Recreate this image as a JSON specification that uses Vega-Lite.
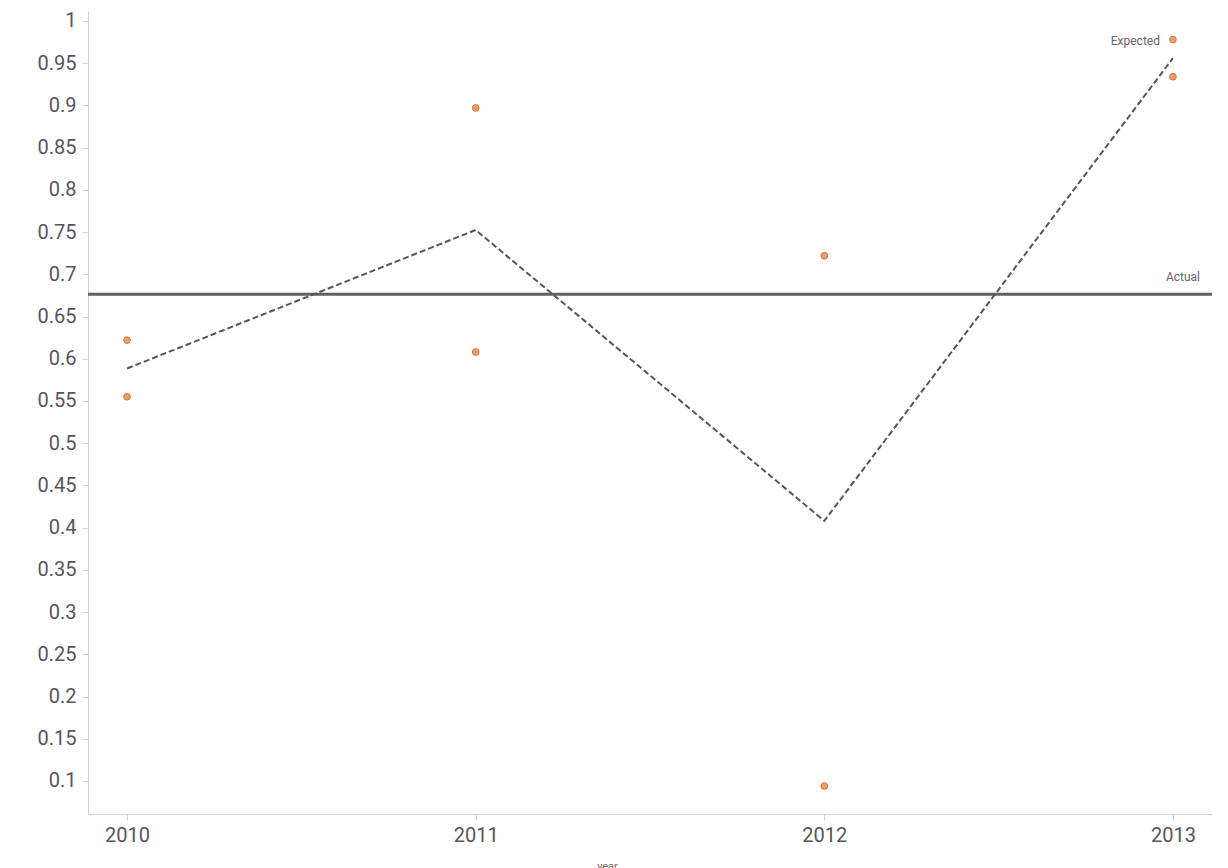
{
  "$schema": "https://vega.github.io/schema/vega-lite/v6.json",
  "width": 1124,
  "height": 803,
  "autosize": {"type": "none"},
  "padding": {"left": 88, "top": 11, "right": 16, "bottom": 54},
  "background": "white",
  "config": {
    "view": {"stroke": null},
    "font": "Roboto",
    "axis": {"grid": false}
  },
  "data": {
    "values": [
      {"year": 2010, "value": 0.622},
      {"year": 2010, "value": 0.555},
      {"year": 2011, "value": 0.897},
      {"year": 2011, "value": 0.608},
      {"year": 2012, "value": 0.722},
      {"year": 2012, "value": 0.094},
      {"year": 2013, "value": 0.978},
      {"year": 2013, "value": 0.934}
    ]
  },
  "layer": [
    {
      "mark": {"type": "rule", "color": "#5f5f66", "strokeWidth": 3},
      "encoding": {
        "y": {"aggregate": "mean", "field": "value", "type": "quantitative"}
      }
    },
    {
      "mark": {"type": "line", "color": "#55555c", "strokeWidth": 2, "strokeDash": [6, 3]},
      "encoding": {
        "x": {
          "field": "year",
          "type": "ordinal",
          "scale": {"type": "point", "padding": 0.112},
          "axis": {
            "title": "year",
            "titleFontSize": 11,
            "titleFontWeight": "normal",
            "titleColor": "#666670",
            "titleX": 519,
            "titleY": 46,
            "titleBaseline": "top",
            "labelAngle": 0,
            "labelFontSize": 20,
            "labelColor": "#55555f",
            "labelPadding": 5,
            "tickSize": 6,
            "tickColor": "#d0d0d8",
            "domainColor": "#d0d0d8"
          }
        },
        "y": {
          "aggregate": "mean",
          "field": "value",
          "type": "quantitative",
          "scale": {"domain": [0.0609, 1.0118], "nice": false, "zero": false},
          "axis": {
            "title": null,
            "values": [0.1, 0.15, 0.2, 0.25, 0.3, 0.35, 0.4, 0.45, 0.5, 0.55, 0.6, 0.65, 0.7, 0.75, 0.8, 0.85, 0.9, 0.95, 1],
            "format": ".2~f",
            "labelFontSize": 20,
            "labelColor": "#55555f",
            "labelPadding": 6,
            "tickSize": 6,
            "tickColor": "#d0d0d8",
            "domainColor": "#d0d0d8"
          }
        }
      }
    },
    {
      "mark": {"type": "point", "filled": true, "size": 45, "fill": "#f29d65", "stroke": "#c7783f", "strokeWidth": 1, "opacity": 1},
      "encoding": {
        "x": {"field": "year", "type": "ordinal"},
        "y": {"field": "value", "type": "quantitative"}
      }
    },
    {
      "mark": {"type": "text", "align": "center", "baseline": "bottom", "dx": 10, "dy": -10, "fontSize": 12, "color": "#666670"},
      "encoding": {
        "x": {"datum": 2013, "type": "ordinal"},
        "y": {"aggregate": "mean", "field": "value", "type": "quantitative"},
        "text": {"value": "Actual"}
      }
    },
    {
      "transform": [{"filter": "datum.year == 2013"}],
      "mark": {"type": "text", "align": "right", "baseline": "middle", "dx": -13, "dy": 1, "fontSize": 12, "color": "#666670"},
      "encoding": {
        "x": {"field": "year", "type": "ordinal"},
        "y": {"aggregate": "max", "field": "value", "type": "quantitative"},
        "text": {"value": "Expected"}
      }
    }
  ]
}
